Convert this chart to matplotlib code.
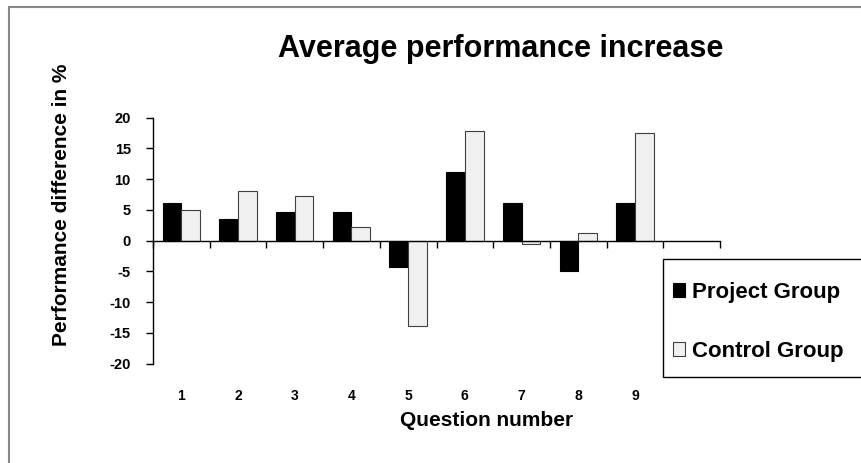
import matplotlib.pyplot as plt
import numpy as np
from matplotlib.patches import Rectangle

plt.rcParams['font.family'] = ['Liberation Sans', 'DejaVu Sans']
plt.rcParams['font.weight'] = 'bold'
plt.rcParams['axes.unicode_minus'] = False

# Average performance difference per question (%)
questions = ["1", "2", "3", "4", "5", "6", "7", "8", "9"]
project_group = [6.2, 3.6, 4.7, 4.7, -4.2, 11.1, 6.2, -4.9, 6.2]
control_group = [5.0, 8.1, 7.2, 2.3, -13.8, 17.8, -0.6, 1.2, 17.5]
n_slots = 10  # category axis has one empty slot after question 9

fig = plt.figure(figsize=(8.62, 4.63), dpi=100)
ax = fig.add_axes([0.1775, 0.2145, 0.6578, 0.5313])

x = np.arange(1, len(questions) + 1)
w = 0.33
ax.bar(x - w / 2, project_group, width=w, color="black", edgecolor="black",
       linewidth=0.8, label="Project Group")
ax.bar(x + w / 2, control_group, width=w, color="#f0f0f0", edgecolor="#404040",
       linewidth=0.8, label="Control Group")

ax.set_xlim(0.5, n_slots + 0.5)
ax.set_ylim(-20, 20)
ax.set_yticks(range(-20, 21, 5))

# category axis line runs through zero, with ticks between categories
for s in ["right", "bottom"]:
    ax.spines[s].set_visible(False)
ax.spines["top"].set_position(("data", 0))
ax.spines["top"].set_linewidth(1.0)
ax.spines["left"].set_linewidth(1.0)
ax.set_xticks(x)
ax.set_xticklabels(questions)
ax.set_xticks(np.arange(0.5, n_slots + 1, 1), minor=True)
ax.tick_params(axis="x", which="major", length=0, pad=18, labelsize=10,
               top=False, bottom=True)
ax.tick_params(axis="x", which="minor", length=5, direction="in",
               top=True, bottom=False, width=1.0)
ax.tick_params(axis="y", length=5, width=1.0, pad=11, labelsize=10.5)

fig.text(501 / 862, 1 - 57 / 463, "Average performance increase",
         ha="center", va="baseline", fontsize=22, fontweight="bold")
fig.text(487 / 862, 1 - 420 / 463, "Question number",
         ha="center", va="center", fontsize=15, fontweight="bold")
fig.text(62 / 862, 1 - 205 / 463, "Performance difference in %",
         ha="center", va="center", rotation=90, fontsize=15, fontweight="bold")

# legend box (runs off the right edge), entries drawn without their own frame
fig.patches.append(Rectangle((663 / 862, 1 - 377 / 463), 0.3, 118 / 463,
                             transform=fig.transFigure, facecolor="white",
                             edgecolor="black", linewidth=1.0))
leg = fig.legend(loc="upper left", bbox_to_anchor=(673 / 862, 1 - 282 / 463),
                 fontsize=16, frameon=False,
                 handlelength=0.55, handleheight=0.55, handletextpad=0.3,
                 labelspacing=1.7, borderpad=0, borderaxespad=0)

# outer chart border
fig.patches.append(Rectangle((9 / 862, -0.1), 1.2, 1.1 - 7 / 463,
                             transform=fig.transFigure, fill=False,
                             edgecolor="#888888", linewidth=1.5))

fig.savefig("out.png", dpi=100)
